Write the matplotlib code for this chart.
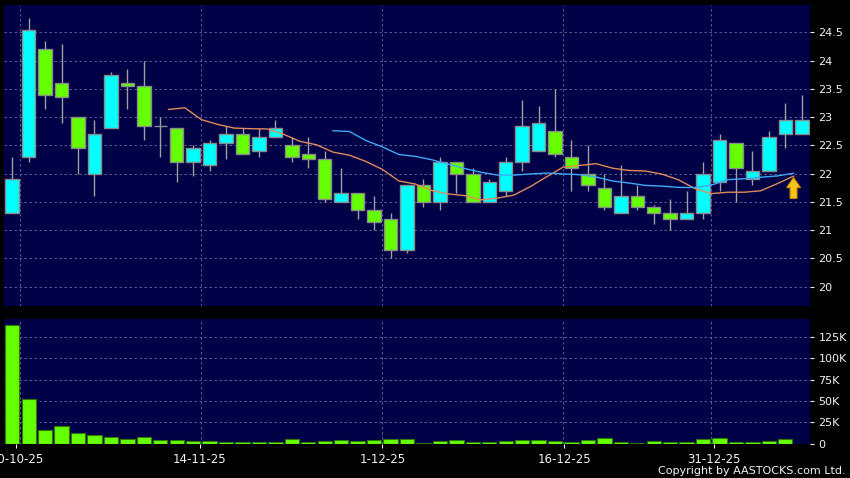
import numpy as np
import matplotlib
matplotlib.use('Agg')
import matplotlib.pyplot as plt
from matplotlib.patches import FancyArrow
from matplotlib.ticker import FuncFormatter

# DATA (daily bars, 30-10-25 .. 9-1-26)
opens = [21.30, 22.30, 24.20, 23.60, 23.00, 22.00, 22.80, 23.60, 23.55, 22.85,
         22.80, 22.20, 22.15, 22.55, 22.70, 22.40, 22.65, 22.50, 22.35, 22.25,
         21.50, 21.65, 21.35, 21.20, 20.65, 21.80, 21.50, 22.20, 22.00, 21.50,
         21.70, 22.20, 22.40, 22.75, 22.30, 22.00, 21.75, 21.30, 21.60, 21.40,
         21.30, 21.20, 21.30, 21.85, 22.55, 21.90, 22.05, 22.70, 22.70]
highs = [22.30, 24.75, 24.35, 24.30, 23.00, 22.95, 23.80, 23.85, 24.00, 23.00,
         22.80, 22.50, 22.60, 22.85, 22.80, 22.80, 22.95, 22.65, 22.65, 22.40,
         22.10, 21.65, 21.60, 21.30, 21.80, 21.90, 22.30, 22.20, 22.10, 21.90,
         22.30, 23.30, 23.20, 23.50, 22.60, 22.50, 22.00, 22.15, 21.80, 21.45,
         21.55, 21.70, 22.20, 22.70, 22.55, 22.40, 22.75, 23.25, 23.40]
lows = [21.30, 22.20, 23.15, 22.90, 22.00, 21.60, 22.80, 23.15, 22.60, 22.30,
        21.85, 21.95, 22.05, 22.25, 22.35, 22.30, 22.65, 22.20, 22.10, 21.50,
        21.50, 21.20, 21.00, 20.50, 20.60, 21.40, 21.35, 21.65, 21.50, 21.50,
        21.60, 22.05, 22.40, 22.30, 21.70, 21.70, 21.35, 21.30, 21.35, 21.10,
        21.00, 21.20, 21.20, 21.70, 21.50, 21.80, 22.05, 22.45, 22.70]
closes = [21.90, 24.55, 23.40, 23.35, 22.45, 22.70, 23.75, 23.55, 22.85, 22.85,
          22.20, 22.45, 22.55, 22.70, 22.35, 22.65, 22.80, 22.30, 22.25, 21.55,
          21.65, 21.35, 21.15, 20.65, 21.80, 21.50, 22.20, 22.00, 21.50, 21.85,
          22.20, 22.85, 22.90, 22.35, 22.10, 21.80, 21.40, 21.60, 21.40, 21.30,
          21.20, 21.30, 22.00, 22.60, 22.10, 22.05, 22.65, 22.95, 22.95]
volumes = [138700, 52700, 16400, 20300, 12500, 9800, 7800, 5100, 7800, 3900,
           4300, 3100, 3500, 2300, 2000, 2000, 2300, 5500, 2300, 3500,
           3900, 2700, 4300, 4700, 4700, 800, 3100, 3900, 1600, 1600,
           2700, 3900, 3900, 3500, 2000, 3900, 6300, 2000, 800, 2700,
           2300, 2300, 5500, 5900, 1600, 1600, 2700, 5100, 0]

# moving averages (10-day from bar 9, 20-day from bar 19)
ma10 = [23.135, 23.165, 22.955, 22.87, 22.805, 22.795, 22.79, 22.695, 22.57, 22.51,
        22.38, 22.325, 22.215, 22.075, 21.87, 21.815, 21.70, 21.64, 21.61, 21.535,
        21.565, 21.62, 21.77, 21.945, 22.115, 22.145, 22.175, 22.095, 22.055, 22.045,
        21.99, 21.89, 21.735, 21.645, 21.67, 21.67, 21.695, 21.82, 21.955]
ma20 = [22.758, 22.745, 22.585, 22.473, 22.338, 22.305, 22.245, 22.168, 22.09, 22.023,
        21.973, 21.973, 21.993, 22.01, 21.993, 21.98, 21.938, 21.868, 21.833, 21.79,
        21.778, 21.755, 21.753, 21.795, 21.893, 21.908, 21.935, 21.958, 22.005]

date_labels = ['30-10-25', '14-11-25', '1-12-25', '16-12-25', '31-12-25']
date_pos = [0.25, 11.4, 22.5, 33.55, 42.65]
grid_bars = [0, 11, 22, 33, 42]
price_ticks = [20, 20.5, 21, 21.5, 22, 22.5, 23, 23.5, 24, 24.5]
vol_ticks = [0, 25000, 50000, 75000, 100000, 125000]

BG = '#000046'
UP = '#00ffff'
DOWN = '#66ff00'
GRID = '#6a6aa0'
TXT = '#f2f2f2'

fig = plt.figure(figsize=(8.5, 4.78), dpi=100, facecolor='black')
ax = fig.add_axes([4/850, 1-306/478, 806/850, 301/478], facecolor=BG)
axv = fig.add_axes([4/850, 1-443.5/478, 806/850, 124.5/478], facecolor=BG)

x = np.arange(len(closes))
o = np.array(opens)
c = np.array(closes)
up = c >= o

# candles
ax.vlines(x, lows, highs, color='#a0a0a0', lw=1, zorder=2)
ax.bar(x, c - o, bottom=o, width=0.82,
       color=np.where(up, UP, DOWN), edgecolor='#8a8a8a', lw=1, zorder=3)

ax.plot(np.arange(9, 9 + len(ma10)) + 0.5, ma10, color='#e08a5a', lw=1, zorder=4)
ax.plot(np.arange(19, 19 + len(ma20)) + 0.5, ma20, color='#3fa9f5', lw=1, zorder=4)

ax.add_patch(FancyArrow(47.5, 21.56, 0, 0.37, width=0.42, head_width=0.85,
                        head_length=0.18, length_includes_head=True,
                        facecolor='#f7c21a', edgecolor='#c98a00', lw=0.8, zorder=5))

# volume
axv.bar(x, volumes, width=0.87, color=DOWN, edgecolor='#2f7a00', lw=0.8, zorder=3)

for a in (ax, axv):
    a.set_xlim(-0.5, 48.5)
    for s in a.spines.values():
        s.set_visible(False)
    for g in grid_bars:
        a.axvline(g + 0.5, color=GRID, lw=0.6, ls=(0, (3, 3)), zorder=1)
    a.grid(axis='y', color=GRID, lw=0.6, ls=(0, (3, 3)), zorder=1)
    a.set_axisbelow(True)
    a.yaxis.tick_right()
    a.tick_params(axis='y', colors=TXT, length=3, width=0.8, pad=3, labelsize=8)

ax.set_ylim(19.655, 24.985)
ax.set_yticks(price_ticks)
ax.yaxis.set_major_formatter(FuncFormatter(lambda v, p: '%g' % v))
ax.set_xticks([])

axv.set_ylim(0, 146000)
axv.set_yticks(vol_ticks)
axv.yaxis.set_major_formatter(FuncFormatter(lambda v, p: '0' if v == 0 else '%dK' % (v / 1000)))
axv.set_xticks(date_pos)
axv.set_xticklabels(date_labels)
axv.tick_params(axis='x', colors=TXT, length=3, width=0.8, pad=4, labelsize=8.5)

fig.text(0.995, 1 - 471.5/478, 'Copyright by AASTOCKS.com Ltd.', color=TXT,
         fontsize=8, ha='right', va='center')

fig.savefig('out.png', dpi=100, facecolor='black')
